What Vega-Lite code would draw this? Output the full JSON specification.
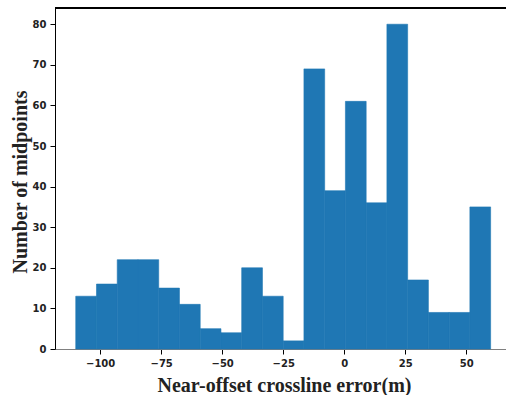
{
  "$schema": "https://vega.github.io/schema/vega-lite/v6.json",
  "autosize": "none",
  "padding": {"left": 55, "top": 8, "right": 0, "bottom": 46},
  "width": 451,
  "height": 341,
  "background": "white",
  "config": {"view": {"stroke": null}},
  "data": {"values": [
    {"start": -110, "end": -101.5, "count": 13},
    {"start": -101.5, "end": -93, "count": 16},
    {"start": -93, "end": -84.5, "count": 22},
    {"start": -84.5, "end": -76, "count": 22},
    {"start": -76, "end": -67.5, "count": 15},
    {"start": -67.5, "end": -59, "count": 11},
    {"start": -59, "end": -50.5, "count": 5},
    {"start": -50.5, "end": -42, "count": 4},
    {"start": -42, "end": -33.5, "count": 20},
    {"start": -33.5, "end": -25, "count": 13},
    {"start": -25, "end": -16.5, "count": 2},
    {"start": -16.5, "end": -8, "count": 69},
    {"start": -8, "end": 0.5, "count": 39},
    {"start": 0.5, "end": 9, "count": 61},
    {"start": 9, "end": 17.5, "count": 36},
    {"start": 17.5, "end": 26, "count": 80},
    {"start": 26, "end": 34.5, "count": 17},
    {"start": 34.5, "end": 43, "count": 9},
    {"start": 43, "end": 51.5, "count": 9},
    {"start": 51.5, "end": 60, "count": 35}
  ]},
  "layer": [
    {
      "mark": {"type": "bar", "color": "#1f77b4", "stroke": "#1f77b4", "strokeWidth": 0.6, "orient": "vertical"},
      "encoding": {
        "x": {
          "field": "start", "type": "quantitative",
          "scale": {"domain": [-118.5, 66.3], "nice": false, "zero": false, "padding": 0},
          "axis": {
            "values": [-100, -75, -50, -25, 0, 25, 50],
            "title": "Near-offset crossline error(m)",
            "grid": false,
            "domainColor": "#808080", "domainWidth": 1.2,
            "tickColor": "#000000", "tickSize": 5, "tickWidth": 1,
            "labelFont": "DejaVu Sans", "labelFontWeight": "bold", "labelFontSize": 10, "labelColor": "#222222",
            "labelPadding": 4,
            "titleFont": "Liberation Serif", "titleFontWeight": "bold", "titleFontSize": 20, "titleColor": "#222222",
            "titleBaseline": "alphabetic", "titleY": 42, "titleX": 229
          }
        },
        "x2": {"field": "end"},
        "y": {
          "field": "count", "type": "quantitative",
          "scale": {"domain": [0, 84], "nice": false, "padding": 0},
          "axis": {
            "values": [0, 10, 20, 30, 40, 50, 60, 70, 80],
            "title": "Number of midpoints",
            "grid": false,
            "domainColor": "#000000", "domainWidth": 1,
            "tickColor": "#000000", "tickSize": 5, "tickWidth": 1,
            "labelFont": "DejaVu Sans", "labelFontWeight": "bold", "labelFontSize": 10, "labelColor": "#222222",
            "labelPadding": 4,
            "titleFont": "Liberation Serif", "titleFontWeight": "bold", "titleFontSize": 20, "titleColor": "#222222",
            "titleBaseline": "alphabetic", "titleX": -29, "titleY": 173.5
          }
        },
        "y2": {"datum": 0}
      }
    },
    {
      "mark": {"type": "rule", "color": "#000000", "strokeWidth": 1},
      "encoding": {"y": {"datum": 84}}
    }
  ]
}
